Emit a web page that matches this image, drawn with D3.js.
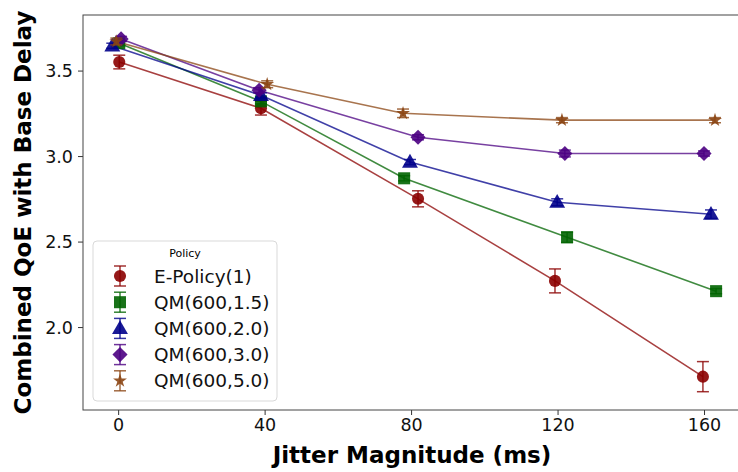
<!DOCTYPE html>
<html lang="en">
<head>
  <meta charset="UTF-8">
  <title>Combined QoE vs Jitter</title>
  <style>
    body { margin: 0; background: #fff; }
    svg { font-family: 'DejaVu Sans', sans-serif; }
  </style>
  <script src="https://d3js.org/d3.v7.min.js"></script>
</head>
<body>
  <div id="chart"></div>
  <script>
    // jitter levels (ms) and tick labels
    const jitter = [0, 40, 80, 120, 160];
    const yTicks = [2.0, 2.5, 3.0, 3.5];
    const policies = ["E-Policy(1)", "QM(600,1.5)", "QM(600,2.0)", "QM(600,3.0)", "QM(600,5.0)"];

    // plotted x positions (points are dodged a little around each jitter level)
    const xEPolicy = [0.3, 39.0, 81.9, 119.3, 159.7];
    const xQM15 = [0.3, 39.0, 78.1, 122.6, 163.3];
    const xQM20 = [-1.6, 39.0, 79.7, 119.9, 161.9];
    const xQM30 = [0.8, 38.5, 81.9, 122.0, 160.0];
    const xQM50 = [-0.5, 40.7, 77.8, 121.2, 163.0];

    // mean combined QoE
    const qoeEPolicy = [3.55, 3.28, 2.75, 2.27, 1.71];
    const qoeQM15 = [3.66, 3.32, 2.87, 2.525, 2.21];
    const qoeQM20 = [3.645, 3.355, 2.965, 2.73, 2.66];
    const qoeQM30 = [3.685, 3.385, 3.11, 3.015, 3.015];
    const qoeQM50 = [3.67, 3.42, 3.25, 3.21, 3.21];

    // error bar half-widths
    const errEPolicy = [0.04, 0.04, 0.047, 0.07, 0.088];
    const errQM15 = [0.015, 0.015, 0.015, 0.03, 0.015];
    const errQM20 = [0.015, 0.015, 0.015, 0.02, 0.025];
    const errQM30 = [0.015, 0.015, 0.015, 0.02, 0.015];
    const errQM50 = [0.02, 0.02, 0.025, 0.015, 0.015];

    const series = [
      { name: policies[0], x: xEPolicy, y: qoeEPolicy, err: errEPolicy, color: "#8b0000", shape: "circle" },
      { name: policies[1], x: xQM15, y: qoeQM15, err: errQM15, color: "#006400", shape: "square" },
      { name: policies[2], x: xQM20, y: qoeQM20, err: errQM20, color: "#00008b", shape: "triangle" },
      { name: policies[3], x: xQM30, y: qoeQM30, err: errQM30, color: "#4b0082", shape: "diamond" },
      { name: policies[4], x: xQM50, y: qoeQM50, err: errQM50, color: "#8b4513", shape: "star" }
    ];

    const width = 738, height = 472;
    const margin = { top: 15, right: -3, bottom: 62, left: 83 };

    const svg = d3.select("#chart").append("svg")
      .attr("width", width)
      .attr("height", height);

    const x = d3.scaleLinear()
      .domain([-9.6, 170.1])
      .range([margin.left, width - margin.right]);

    const y = d3.scaleLinear()
      .domain([1.515, 3.825])
      .range([height - margin.bottom, margin.top]);

    const symbols = {
      circle: d3.symbol().type(d3.symbolCircle).size(115),
      square: d3.symbol().type(d3.symbolSquare).size(145),
      triangle: d3.symbol().type(d3.symbolTriangle).size(110),
      diamond: d3.symbol().type(d3.symbolSquare).size(115),
      star: d3.symbol().type(d3.symbolStar).size(60)
    };

    function drawMarker(g, s, cx, cy) {
      const p = g.append("path")
        .attr("d", symbols[s.shape]())
        .attr("fill", s.color)
        .attr("fill-opacity", 0.9);
      if (s.shape === "diamond") p.attr("transform", `translate(${cx},${cy}) rotate(45)`);
      else if (s.shape === "triangle") p.attr("transform", `translate(${cx},${cy + 1})`);
      else p.attr("transform", `translate(${cx},${cy})`);
    }

    function drawErr(g, color, cx, y0, y1) {
      g.append("line").attr("x1", cx).attr("x2", cx).attr("y1", y0).attr("y2", y1);
      g.append("line").attr("x1", cx - 6).attr("x2", cx + 6).attr("y1", y0).attr("y2", y0);
      g.append("line").attr("x1", cx - 6).attr("x2", cx + 6).attr("y1", y1).attr("y2", y1);
      g.selectAll("line").attr("stroke", color).attr("stroke-width", 1.5).attr("stroke-opacity", 0.8);
    }

    const line = d3.line();

    // lines
    series.forEach(s => {
      const pts = s.x.map((v, i) => [x(v), y(s.y[i])]);
      svg.append("path")
        .attr("d", line(pts))
        .attr("fill", "none")
        .attr("stroke", s.color)
        .attr("stroke-opacity", 0.75)
        .attr("stroke-width", 1.6);
    });

    // error bars + markers
    series.forEach(s => {
      const g = svg.append("g");
      s.x.forEach((v, i) => {
        const eg = g.append("g");
        drawErr(eg, s.color, x(v), y(s.y[i] + s.err[i]), y(s.y[i] - s.err[i]));
        drawMarker(g, s, x(v), y(s.y[i]));
      });
    });

    // axes
    const xAxis = svg.append("g")
      .attr("transform", `translate(0,${height - margin.bottom})`)
      .call(d3.axisBottom(x).tickValues(jitter).tickSize(5).tickPadding(4));
    const yAxis = svg.append("g")
      .attr("transform", `translate(${margin.left},0)`)
      .call(d3.axisLeft(y).tickValues(yTicks).tickFormat(d3.format(".1f")).tickSize(5).tickPadding(5));
    [xAxis, yAxis].forEach(a => {
      a.select(".domain").remove();
      a.selectAll(".tick line").attr("stroke", "#333").attr("stroke-width", 1);
      a.selectAll(".tick text")
        .attr("fill", "#111")
        .style("font-size", "17.5px")
        .style("font-family", "'DejaVu Sans', sans-serif");
    });
    yAxis.selectAll(".tick text").attr("dy", "0.36em");

    // frame
    svg.append("rect")
      .attr("x", margin.left)
      .attr("y", margin.top)
      .attr("width", x.range()[1] - margin.left)
      .attr("height", height - margin.bottom - margin.top)
      .attr("fill", "none")
      .attr("stroke", "#444")
      .attr("stroke-width", 1);

    // axis titles
    svg.append("text")
      .attr("x", (margin.left + x.range()[1]) / 2)
      .attr("y", 463)
      .attr("text-anchor", "middle")
      .style("font-size", "23px")
      .style("font-weight", "bold")
      .text("Jitter Magnitude (ms)");

    svg.append("text")
      .attr("transform", `translate(31,${(margin.top + height - margin.bottom) / 2}) rotate(-90)`)
      .attr("text-anchor", "middle")
      .style("font-size", "23px")
      .style("font-weight", "bold")
      .text("Combined QoE with Base Delay");

    // legend
    const legend = svg.append("g").attr("transform", "translate(93,241)");
    legend.append("rect")
      .attr("width", 184)
      .attr("height", 160)
      .attr("rx", 4)
      .attr("fill", "#fff")
      .attr("fill-opacity", 0.8)
      .attr("stroke", "#d9d9d9");
    legend.append("text")
      .attr("x", 92)
      .attr("y", 16)
      .attr("text-anchor", "middle")
      .style("font-size", "11px")
      .text("Policy");
    series.forEach((s, i) => {
      const cy = 35 + i * 26.2;
      const g = legend.append("g");
      drawErr(g.append("g"), s.color, 27, cy - 10, cy + 10);
      drawMarker(g, s, 27, cy);
      g.append("text")
        .attr("x", 61)
        .attr("y", cy)
        .attr("dy", "0.36em")
        .style("font-size", "18.5px")
        .attr("fill", "#111")
        .text(s.name);
    });
  </script>
</body>
</html>
